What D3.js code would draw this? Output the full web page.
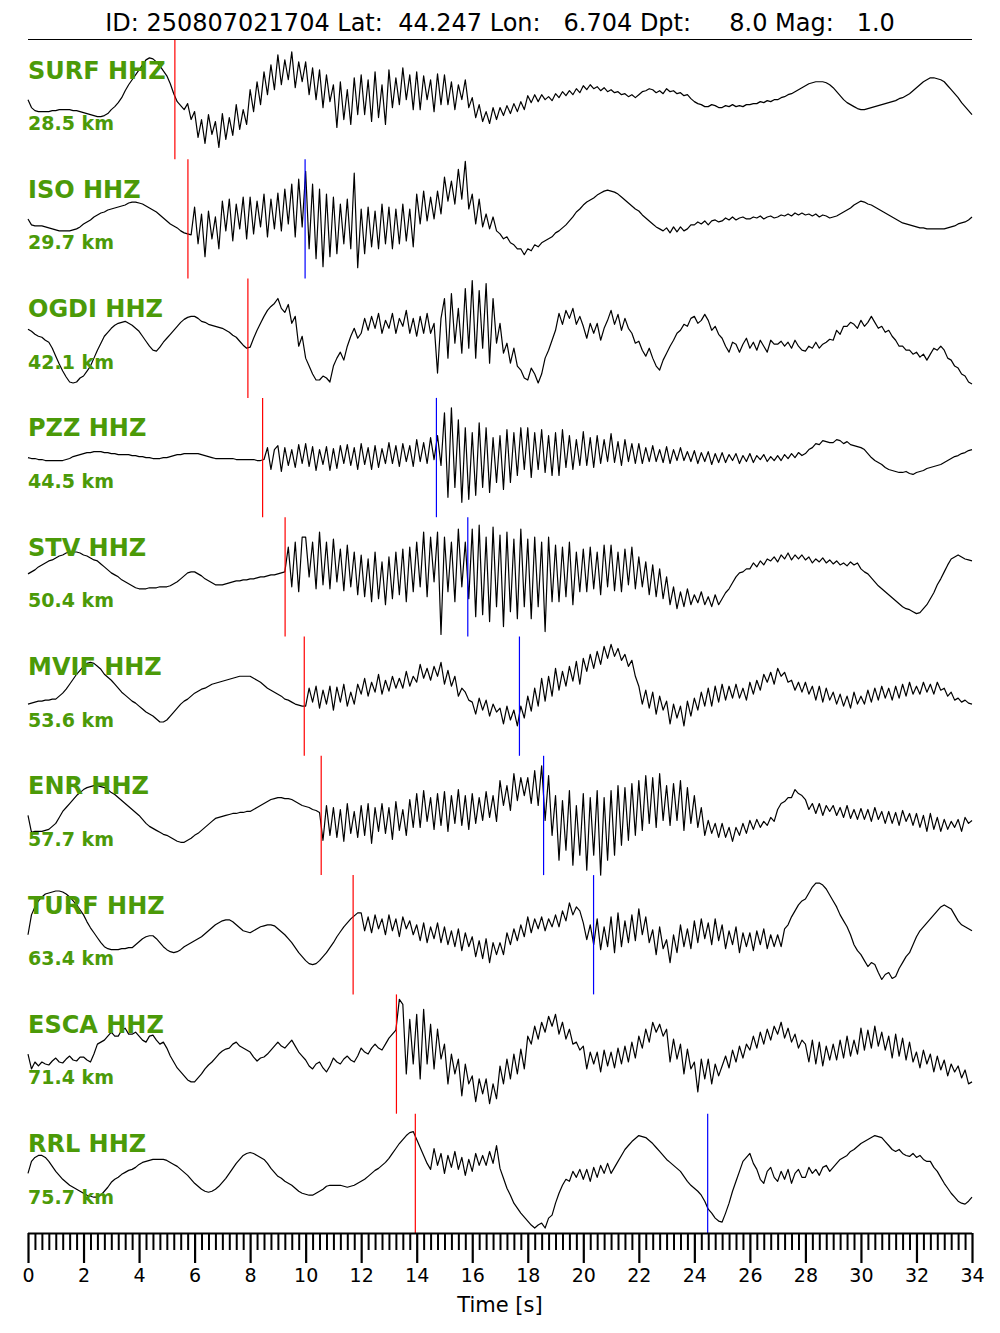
<!DOCTYPE html>
<html><head><meta charset="utf-8">
<script src="https://cdn.jsdelivr.net/npm/d3@7"></script>
<style>html,body{margin:0;padding:0;background:#fff;}svg{display:block;}</style>
</head><body>
<svg id="chart" width="1000" height="1333"></svg>
<script>
const titleText = "ID: 250807021704 Lat:  44.247 Lon:   6.704 Dpt:     8.0 Mag:   1.0";
const stations = ["SURF","ISO","OGDI","PZZ","STV","MVIF","ENR","TURF","ESCA","RRL"];
const distances = ["28.5","29.7","42.1","44.5","50.4","53.6","57.7","63.4","71.4","75.7"];
const pPicks = [5.29, 5.76, 7.92, 8.45, 9.26, 9.95, 10.56, 11.71, 13.27, 13.95];
const sPicks = [null, 9.98, null, 14.71, 15.84, 17.70, 18.57, 20.37, null, 24.48];
const sampleInterval = 0.125;
const majorTicks = [0,2,4,6,8,10,12,14,16,18,20,22,24,26,28,30,32,34];

const surf = [
0,-8,-11,-12,-12,-12,-12,-11,
-11,-10,-10,-10,-10,-11,-11,-12,
-13,-14,-15,-16,-17,-17,-16,-14,
-10,-7,-3,2,9,15,20,25,
30,35,40,42,41,38,34,29,
24,16,6,-2,-6,-10,-4,-20,
-12,-38,-20,-44,-15,-35,-22,-48,
-14,-40,-18,-36,-5,-30,-10,-25,
10,-12,18,-5,28,5,35,10,
45,15,40,20,48,12,38,18,
38,5,32,0,30,-8,25,-2,
15,-28,18,-20,10,-25,22,-15,
25,-15,20,-22,28,-18,15,-25,
30,-8,22,-5,32,0,25,-10,
28,-10,24,0,20,-12,26,-5,
25,-5,18,-10,15,0,20,-8,
2,-18,-5,-22,-12,-24,-8,-20,
-8,-16,-6,-14,-4,-12,-2,-10,
4,-3,5,-2,5,0,3,-1,
6,2,8,4,9,5,11,7,
14,10,15,11,13,9,12,8,
10,7,8,5,6,3,5,2,
5,8,9,11,10,7,9,6,
11,8,9,6,7,4,5,1,
-2,-4,-5,-7,-7,-5,-6,-8,
-8,-6,-7,-5,-7,-6,-7,-5,
-5,-4,-4,-2,-3,-1,-2,0,
0,2,3,5,6,8,10,12,
14,16,17,18,18,18,17,15,
12,8,4,0,-3,-5,-7,-9,
-10,-10,-9,-8,-7,-6,-5,-4,
-3,-2,-1,1,2,4,6,9,
12,15,18,20,22,22,21,20,
18,14,10,6,2,-3,-7,-11,
-15];
const iso = [
0,-6,-7,-7,-7,-8,-9,-10,
-11,-12,-12,-12,-12,-11,-10,-8,
-5,-3,-1,2,4,6,7,9,
10,11,12,13,14,16,17,17,
16,15,13,11,9,7,4,1,
-2,-5,-7,-9,-12,-14,-15,-16,
12,-25,5,-38,8,-20,2,-30,
18,-12,20,-22,15,-10,22,-20,
22,-15,18,-8,25,-18,20,-10,
26,-12,30,-5,35,-18,40,-8,
48,-30,35,-40,30,-48,25,-38,
22,-35,15,-25,20,-30,46,-49,
10,-35,12,-28,8,-30,15,-25,
12,-30,10,-25,15,-22,10,-28,
25,-5,28,-2,22,0,28,5,
42,18,38,15,50,20,58,10,
25,-5,20,-8,5,-10,2,-12,
-15,-20,-18,-24,-26,-30,-30,-36,
-30,-32,-26,-28,-24,-22,-20,-18,
-14,-12,-9,-6,-2,2,7,10,
14,17,19,21,24,26,28,29,
28,27,25,22,19,16,13,10,
8,4,1,-2,-5,-8,-10,-12,
-9,-14,-8,-13,-8,-12,-10,-6,
-6,-3,-5,-2,-6,-2,-1,-3,
-2,1,-1,2,-1,1,2,0,
0,2,1,3,0,2,3,1,
2,4,3,5,3,6,4,6,
4,5,3,5,2,4,3,1,
2,3,5,7,9,11,14,16,
18,17,15,14,12,10,8,6,
4,2,0,-2,-4,-5,-6,-7,
-8,-9,-9,-10,-10,-10,-10,-10,
-10,-9,-8,-7,-5,-4,-3,-1,
2];
const ogdi = [
9,7,4,2,1,-2,-4,-10,
-18,-26,-33,-39,-44,-45,-44,-40,
-38,-33,-28,-20,-12,-5,2,6,
10,13,15,16,17,15,13,10,
7,2,-3,-8,-12,-13,-9,-4,
0,4,8,12,16,19,21,22,
22,20,17,16,14,13,12,11,
10,8,6,3,1,-3,-7,-10,
-9,0,8,15,22,28,32,35,
40,30,26,34,15,22,-8,2,
-20,-28,-36,-42,-42,-38,-40,-44,
-28,-20,-14,-22,-8,2,10,0,
5,20,8,22,10,25,5,18,
10,25,5,20,12,28,5,20,
2,22,5,25,5,15,-35,20,
40,-20,45,-5,30,-15,50,-10,
58,-20,48,-10,55,-25,40,-5,
15,-15,-5,-25,-10,-28,-32,-40,
-42,-30,-36,-45,-36,-20,-12,-2,
8,25,14,28,20,30,14,22,
12,0,15,5,15,-2,10,18,
28,14,24,8,20,10,5,-5,
-3,-12,-18,-10,-20,-28,-32,-22,
-15,-8,-2,5,8,14,12,20,
22,15,18,24,18,8,12,4,
0,-8,-14,-4,-6,-14,-6,0,
-10,-4,-12,-2,-8,-14,-2,-6,
-6,-3,-8,-4,-10,-2,-8,-12,
-13,-8,-10,-4,-10,-6,-4,-1,
-2,8,4,12,12,16,14,10,
18,12,16,22,16,10,12,6,
8,2,-2,-8,-8,-12,-12,-16,
-14,-19,-16,-22,-16,-10,-12,-8,
-12,-20,-22,-28,-30,-36,-38,-44,
-46];
const pzz = [
0,-1,-1,-2,-2,-3,-3,-3,
-3,-3,-3,-2,-1,1,2,3,
4,5,5,6,6,6,5,5,
4,4,3,3,3,3,2,2,
1,1,0,0,-1,-1,-1,0,
0,1,2,3,3,4,4,4,
4,4,3,2,1,0,-1,-1,
-1,-1,-1,-1,-2,-2,-2,-2,
-2,-2,-3,-3,-2,10,-12,8,
12,-14,10,-8,8,-10,13,-6,
14,-9,11,-13,8,-7,11,-13,
9,-11,12,-6,13,-8,10,-12,
14,-7,10,-12,12,-10,9,-6,
15,-6,12,-9,14,-4,12,-9,
18,-4,15,-6,20,-2,22,-8,
45,-40,50,-30,38,-45,30,-42,
25,-38,35,-30,30,-35,20,-25,
22,-32,28,-25,25,-18,30,-12,
30,-20,25,-12,28,-15,22,-18,
25,-18,28,-10,22,-12,18,-8,
26,-8,20,-10,22,-6,18,-4,
24,-5,16,-8,18,-4,14,-6,
14,-6,10,-4,12,-4,8,-5,
11,-6,8,-3,10,-3,6,-4,
7,-6,5,-4,6,-7,4,-5,
5,-5,3,-3,4,-6,2,-4,
4,-5,2,-2,3,-4,1,-3,
2,-3,3,-1,4,0,5,2,
4,8,10,14,13,17,16,15,
15,18,17,14,16,13,12,11,
10,8,4,0,-3,-5,-7,-10,
-12,-13,-14,-15,-15,-14,-16,-17,
-15,-14,-13,-11,-10,-9,-8,-7,
-5,-3,-1,1,2,4,5,7,
8];
const stv = [
3,5,7,10,12,14,16,17,
19,21,22,24,25,25,25,24,
22,21,19,17,16,13,10,7,
4,2,0,-3,-5,-7,-9,-11,
-12,-12,-12,-11,-11,-11,-10,-10,
-10,-9,-7,-5,-2,1,4,5,
5,3,1,-2,-4,-6,-8,-8,
-8,-7,-6,-5,-4,-4,-3,-3,
-2,-2,-1,0,0,1,2,2,
3,4,5,30,-10,35,-15,40,
40,0,35,-12,45,-8,35,-12,
38,-5,28,-14,32,-10,25,-18,
22,-20,18,-25,25,-22,15,-28,
20,-22,25,-18,28,-25,30,-15,
35,-10,45,-20,40,-5,45,-58,
40,-15,35,-25,48,-10,35,-22,
48,-40,52,-38,40,-45,50,-30,
42,-50,45,-35,38,-42,48,-30,
38,-42,40,-30,35,-55,40,-25,
32,-25,30,-20,35,-28,25,-15,
28,-15,30,-12,25,-18,32,-10,
32,-14,25,-15,28,-8,30,-12,
20,-10,15,-18,12,-20,8,-22,
0,-28,-10,-32,-15,-30,-12,-28,
-18,-26,-15,-28,-20,-30,-18,-28,
-22,-16,-12,-6,0,4,5,8,
8,14,10,16,12,18,16,20,
15,22,18,24,17,22,18,22,
17,20,14,18,15,19,14,17,
13,16,12,14,11,15,12,14,
8,5,3,-1,-5,-9,-12,-15,
-18,-21,-24,-27,-30,-32,-33,-35,
-37,-36,-32,-28,-22,-16,-8,-2,
5,12,18,20,22,20,18,17,
16];
const mvif = [
-8,-7,-6,-5,-5,-4,-4,-3,
-3,0,3,7,12,17,22,26,
30,33,34,33,30,27,22,19,
16,12,8,4,1,-2,-5,-7,
-10,-13,-16,-18,-20,-23,-26,-26,
-24,-20,-16,-12,-8,-5,-3,0,
3,5,7,8,10,12,13,14,
15,16,17,18,19,20,20,20,
20,18,16,14,11,8,6,4,
2,0,-3,-4,-6,-8,-9,-10,
-10,8,-6,10,-12,6,-8,10,
-14,9,-6,12,-10,4,-8,12,
2,18,0,14,4,22,2,16,
5,20,8,18,8,25,10,20,
14,32,18,28,16,30,20,34,
12,26,10,20,0,8,4,-4,
-6,-18,-2,-14,-4,-20,-8,-16,
-12,-28,-10,-24,-14,-30,-10,-22,
0,-15,8,-10,18,-5,20,0,
28,6,25,10,30,15,35,12,
38,25,42,28,45,32,50,38,
52,40,48,36,42,30,36,20,
10,-8,6,-12,4,-18,0,-14,
-5,-28,-8,-22,-10,-30,-5,-20,
-2,-14,4,-10,8,-10,10,-6,
12,-4,10,-2,12,-2,8,-4,
14,2,16,6,22,14,24,12,
28,20,24,14,16,6,14,4,
14,2,10,-4,10,-6,8,-4,
4,-8,2,-10,0,-12,4,-8,
0,-8,6,-6,8,-4,10,-2,
8,-4,10,-2,12,0,14,2,
10,2,14,4,12,2,14,6,
8,0,4,-4,-2,-6,-4,-7,
-8];
const enr = [
0,-17,-16,-16,-16,-15,-14,-11,
-8,-2,4,8,12,16,20,23,
26,28,29,30,30,29,28,26,
23,21,18,15,12,9,6,3,
0,-4,-8,-11,-13,-15,-17,-19,
-20,-22,-24,-26,-27,-27,-25,-23,
-20,-18,-15,-12,-9,-6,-3,-2,
-1,0,1,2,2,3,3,4,
4,6,8,10,12,14,16,17,
18,18,17,17,16,14,12,10,
9,8,6,5,3,-25,10,-20,
8,-22,6,-26,12,-18,4,-22,
10,-20,12,-28,8,-16,12,-18,
8,-24,14,-15,6,-20,16,-12,
22,-12,25,-6,18,-14,22,-10,
24,-16,20,-8,26,-10,20,-14,
22,-8,18,-5,24,-2,20,-6,
35,10,30,5,42,15,38,20,
38,12,45,10,50,-5,40,-20,
20,-45,15,-35,25,-50,10,-40,
22,-55,18,-40,25,-60,18,-45,
25,-40,30,-30,28,-25,32,-20,
35,-15,40,-8,38,-12,42,-5,
30,-10,32,-5,35,-15,28,-8,
20,-12,8,-20,-5,-18,-8,-22,
-8,-22,-12,-26,-12,-20,-8,-18,
-5,-14,-4,-12,-6,-10,-2,-6,
6,12,14,18,18,26,22,20,
16,6,12,2,12,0,10,4,
10,0,8,-2,10,-3,6,-4,
7,-4,6,-6,8,-4,4,-8,
4,-8,3,-10,5,-6,2,-10,
2,-12,0,-16,2,-14,-2,-16,
-4,-14,-6,-12,-4,-16,-2,-8,
-5];
const turf = [
0,20,28,34,38,41,42,43,
44,44,43,41,38,34,30,25,
20,13,7,2,-3,-8,-12,-14,
-15,-15,-15,-14,-14,-13,-13,-10,
-7,-4,-2,-1,-1,-4,-8,-12,
-15,-17,-18,-17,-15,-12,-10,-8,
-6,-4,-2,1,4,7,10,12,
14,15,15,13,10,7,4,3,
2,4,6,8,9,10,10,9,
6,3,0,-4,-8,-13,-18,-22,
-26,-29,-30,-29,-26,-22,-18,-13,
-8,-2,3,8,12,16,19,22,
22,4,18,2,20,6,16,0,
20,4,16,-2,18,6,14,0,
10,-6,12,-8,8,-4,12,-8,
8,-10,4,-12,6,-16,2,-12,
-2,-22,-6,-24,-4,-28,-8,-20,
-8,-20,2,-10,6,-6,10,-2,
18,2,16,6,18,4,16,8,
20,8,24,14,32,20,28,24,
12,-5,10,-10,16,-15,8,-12,
18,-18,22,-12,14,-8,20,-6,
26,0,18,-8,5,-20,8,-14,
-5,-28,0,-18,10,-12,6,-14,
14,-8,16,-4,12,-10,16,-6,
10,-14,4,-10,8,-18,2,-12,
2,-16,4,-10,6,-14,0,-12,
0,-12,6,10,18,24,30,34,
36,42,48,52,52,50,46,40,
34,28,20,14,8,0,-10,-16,
-20,-26,-32,-28,-30,-38,-45,-40,
-38,-44,-42,-34,-28,-22,-18,-10,
-2,4,8,12,16,20,24,28,
30,28,26,20,14,10,8,6,
4];
const esca = [
0,-15,-8,-12,-8,-10,-11,-7,
-4,-8,-9,-5,-2,-6,-7,-3,
-3,-6,-8,0,10,12,14,18,
22,18,18,24,26,20,20,22,
18,14,12,18,19,14,10,12,
6,-2,-8,-14,-18,-22,-26,-28,
-28,-24,-20,-15,-11,-8,-4,0,
3,5,6,10,12,8,6,4,
2,-3,-7,-4,-3,0,4,8,
12,8,6,10,14,8,2,-2,
-6,-12,-15,-10,-8,-14,-18,-12,
-4,-8,-10,-5,-2,-6,-8,-2,
6,2,0,6,10,6,4,10,
16,20,24,55,50,-20,35,-10,
40,-25,45,-10,30,-15,25,-5,
10,-30,0,-20,-5,-42,-10,-30,
-22,-48,-25,-40,-25,-50,-30,-45,
-12,-30,-5,-25,0,-20,5,-15,
18,10,28,15,32,22,38,28,
40,20,32,15,25,10,12,4,
8,-15,2,-10,2,-18,4,-12,
2,-14,6,-10,8,-8,12,-4,
18,6,25,12,32,22,30,18,
25,-8,15,-5,10,-20,5,-15,
-8,-38,-5,-25,-5,-30,-10,-22,
-12,-2,-14,4,-8,8,-4,10,
4,18,6,22,10,25,14,28,
20,32,16,26,12,20,6,14,
10,-8,14,-10,12,-12,8,-6,
10,-6,14,-4,18,-2,14,0,
26,4,24,6,28,8,22,4,
18,-4,20,-2,16,-6,12,-8,
2,-14,4,-10,0,-18,-2,-16,
-6,-22,-10,-18,-12,-24,-16,-30,
-28];
const rrl = [
0,12,16,18,18,16,12,7,
2,-2,-6,-9,-12,-14,-16,-18,
-20,-22,-23,-24,-24,-22,-18,-14,
-9,-6,-4,-1,1,3,4,6,
9,11,12,13,14,14,14,14,
13,11,9,7,4,1,-2,-6,
-10,-13,-16,-18,-19,-18,-16,-13,
-9,-5,0,5,10,14,18,20,
21,20,18,16,14,10,5,1,
-3,-5,-8,-10,-12,-15,-18,-20,
-21,-22,-22,-20,-18,-16,-13,-12,
-12,-12,-12,-13,-14,-13,-12,-10,
-8,-6,-3,0,3,5,8,11,
15,20,25,30,34,38,41,42,
34,26,18,10,4,25,8,20,
0,18,6,22,4,16,-2,14,
2,20,8,18,8,22,10,28,
5,-5,-15,-22,-30,-35,-40,-44,
-48,-52,-55,-52,-50,-55,-45,-42,
-30,-20,-12,-6,-8,2,-4,4,
-6,4,-8,6,-4,8,0,10,
0,6,12,18,24,28,32,35,
38,37,36,33,30,26,22,18,
14,11,8,5,2,-3,-8,-12,
-15,-18,-22,-28,-36,-40,-45,-48,
-49,-40,-30,-18,-8,2,12,16,
20,10,4,-6,-10,2,6,-4,
-8,2,-6,4,-10,0,4,-4,
-4,6,0,4,-2,6,8,2,
6,10,14,16,18,22,24,27,
30,32,34,36,38,37,36,32,
28,24,22,24,20,18,17,20,
16,18,14,12,12,6,2,-4,
-10,-15,-20,-24,-28,-30,-31,-28,
-24];

const traces = [surf, iso, ogdi, pzz, stv, mvif, enr, turf, esca, rrl];

(function draw() {
  const svg = d3.select("#chart");
  const plotLeft = 28, plotRight = 972, plotTop = 40, plotBottom = 1233;
  const bandH = (plotBottom - plotTop) / stations.length;
  const green = "#4b9a08";

  const x = d3.scaleLinear().domain([0, 34]).range([plotLeft, plotRight]);

  svg.append("text").attr("x", 500).attr("y", 31).attr("text-anchor", "middle")
    .attr("font-family", "DejaVu Sans").attr("font-size", 24).attr("fill", "#000")
    .style("white-space", "pre").attr("xml:space", "preserve").text(titleText);
  svg.append("line").attr("x1", plotLeft).attr("x2", plotRight).attr("y1", 39.5).attr("y2", 39.5)
    .attr("stroke", "#000").attr("stroke-width", 1);

  traces.forEach((vals, i) => {
    const bTop = plotTop + i * bandH, bBot = bTop + bandH;
    const y = d3.scaleLinear().domain([-60, 60]).range([bBot, bTop]);
    const g = svg.append("g");
    const line = d3.line().x((d, j) => x(j * sampleInterval)).y(d => y(d));
    g.append("path").datum(vals).attr("d", line).attr("fill", "none")
      .attr("stroke", "#000").attr("stroke-width", 1.2).attr("stroke-linejoin", "round");
    g.append("line").attr("x1", x(pPicks[i])).attr("x2", x(pPicks[i]))
      .attr("y1", bTop).attr("y2", bBot).attr("stroke", "#f00").attr("stroke-width", 1.2);
    if (sPicks[i] !== null) {
      g.append("line").attr("x1", x(sPicks[i])).attr("x2", x(sPicks[i]))
        .attr("y1", bTop).attr("y2", bBot).attr("stroke", "#00f").attr("stroke-width", 1.2);
    }
    g.append("text").attr("x", plotLeft).attr("y", bTop + 38.5)
      .attr("font-family", "DejaVu Sans").attr("font-weight", "bold").attr("font-size", 24)
      .attr("fill", green).text(stations[i] + " HHZ");
    g.append("text").attr("x", plotLeft).attr("y", bTop + 90)
      .attr("font-family", "DejaVu Sans").attr("font-weight", "bold").attr("font-size", 19)
      .attr("fill", green).text(distances[i] + " km");
  });

  const minorTicks = d3.range(0, 34.001, 0.25).filter(t => Math.abs(t / 2 - Math.round(t / 2)) > 1e-6);
  const axMinor = d3.axisBottom(x).tickValues(minorTicks).tickSize(17).tickFormat("");
  const axMajor = d3.axisBottom(x).tickValues(majorTicks).tickSize(30).tickPadding(6).tickFormat(d3.format("d"));
  const gMin = svg.append("g").attr("transform", `translate(0,${plotBottom})`).call(axMinor);
  gMin.select(".domain").remove();
  gMin.selectAll(".tick line").attr("stroke", "#000").attr("stroke-width", 2);
  const gMaj = svg.append("g").attr("transform", `translate(0,${plotBottom})`).call(axMajor);
  gMaj.select(".domain").attr("stroke", "#000").attr("stroke-width", 2).attr("d", `M${plotLeft},0.5H${plotRight}`);
  gMaj.selectAll(".tick line").attr("stroke", "#000").attr("stroke-width", 2.2);
  gMaj.selectAll(".tick text").attr("font-family", "DejaVu Sans").attr("font-size", 19).attr("fill", "#000");
  svg.append("text").attr("x", 500).attr("y", 1312).attr("text-anchor", "middle")
    .attr("font-family", "DejaVu Sans").attr("font-size", 21).attr("fill", "#000").text("Time [s]");
})();
</script>
</body></html>
